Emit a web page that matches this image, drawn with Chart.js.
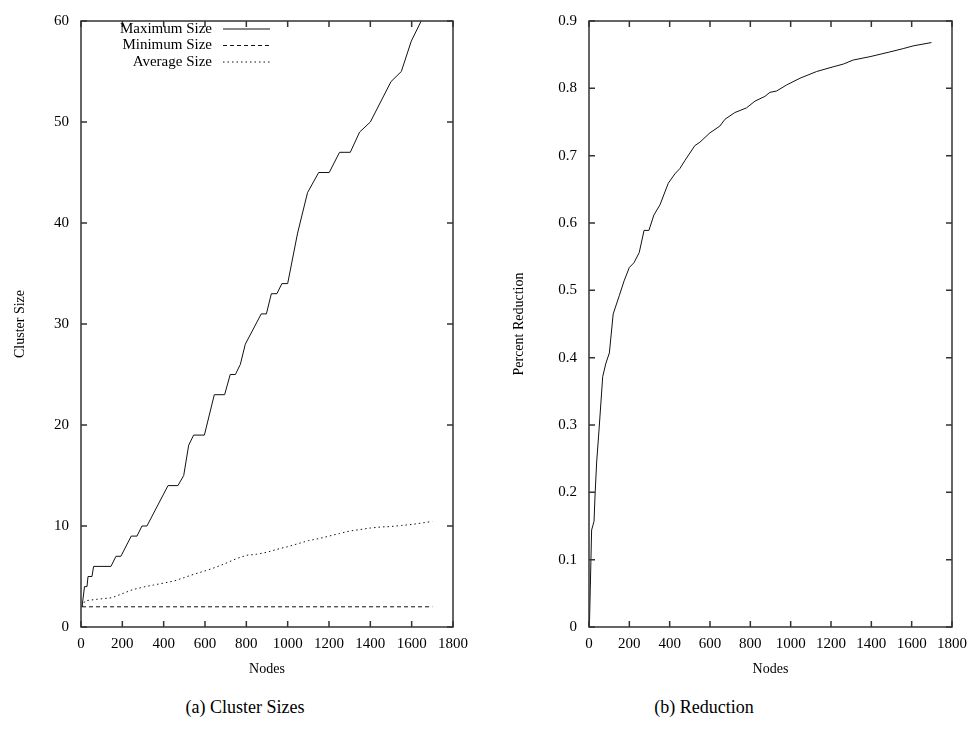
<!DOCTYPE html>
<html>
<head>
<meta charset="utf-8">
<script src="https://cdn.jsdelivr.net/npm/chart.js@4.4.1/dist/chart.umd.min.js"></script>
<style>
body {
	margin : 0;
	background : #fff;
	width : 976px;
	height : 750px;
	position : relative;
	overflow : hidden;
}
.box {
	position : absolute;
	top : 0;
	width : 488px;
	height : 690px;
}
#boxA { left : 0; }
#boxB { left : 488px; }
.caption {
	position : absolute;
	top : 697px;
	font-family : "Liberation Serif", serif;
	font-size : 18px;
	line-height : 20px;
	color : #000;
	white-space : nowrap;
	transform : translateX(-50%);
}
</style>
</head>
<body>
<div class="box" id="boxA"><canvas id="clusterSizes"></canvas></div>
<div class="box" id="boxB"><canvas id="reduction"></canvas></div>
<div class="caption" style="left:245px">(a) Cluster Sizes</div>
<div class="caption" style="left:704px">(b) Reduction</div>
<script>
// x ticks (nodes)
var nodeTicks = [ 0, 200, 400, 600, 800, 1000, 1200, 1400, 1600, 1800 ];

// (a) cluster sizes
var maxNodes = [ 5, 17, 29, 34, 53, 61, 145, 169, 193, 243, 271, 295, 319, 421,
		469, 497, 521, 545, 597, 645, 695, 722, 747, 771, 795, 872, 897, 921,
		948, 972, 1000, 1048, 1096, 1150, 1201, 1251, 1303, 1348, 1400, 1500,
		1550, 1598, 1646, 1700 ];
var maxSize = [ 2, 4, 4, 5, 5, 6, 6, 7, 7, 9, 9, 10, 10, 14, 14, 15, 18, 19,
		19, 23, 23, 25, 25, 26, 28, 31, 31, 33, 33, 34, 34, 39, 43, 45, 45, 47,
		47, 49, 50, 54, 55, 58, 60, 62 ];

var minNodes = [ 5, 1700 ];
var minSize = [ 2, 2 ];

var avgNodes = [ 5, 20, 80, 150, 200, 250, 300, 350, 400, 450, 500, 550, 600,
		650, 700, 750, 800, 850, 900, 950, 1000, 1050, 1100, 1150, 1200, 1250,
		1300, 1350, 1400, 1450, 1500, 1550, 1600, 1650, 1700 ];
var avgSize = [ 2, 2.6, 2.75, 2.9, 3.3, 3.7, 3.95, 4.15, 4.35, 4.55, 4.9, 5.25,
		5.55, 5.9, 6.3, 6.75, 7.1, 7.2, 7.4, 7.7, 7.95, 8.25, 8.55, 8.75, 9.0,
		9.25, 9.5, 9.65, 9.8, 9.9, 9.95, 10.05, 10.15, 10.3, 10.45 ];

// (b) reduction
var redNodes = [ 2, 13, 25, 30, 38, 50, 68, 84, 101, 120, 150, 174, 200, 223,
		249, 273, 297, 322, 352, 393, 426, 451, 476, 525, 550, 600, 649, 674,
		723, 781, 823, 872, 897, 930, 980, 1046, 1129, 1211, 1261, 1310, 1393,
		1491, 1558, 1607, 1698 ];
var redValues = [ 0, 0.144, 0.157, 0.196, 0.245, 0.294, 0.372, 0.392, 0.407,
		0.465, 0.492, 0.514, 0.534, 0.541, 0.556, 0.589, 0.589, 0.612, 0.627,
		0.659, 0.673, 0.681, 0.693, 0.715, 0.72, 0.734, 0.744, 0.754, 0.764,
		0.771, 0.781, 0.788, 0.794, 0.796, 0.805, 0.815, 0.825, 0.832, 0.836,
		0.842, 0.847, 0.854, 0.859, 0.863, 0.868 ];

var serif = '"Liberation Serif", "Times New Roman", serif';

var chart = {

	points : function(xs, ys) {
		var out = [];
		for (var i = 0; i < xs.length; i++) {
			out.push({ x : xs[i], y : ys[i] });
		}
		return out;
	},

	// gnuplot-like box with inward ticks on all four sides
	framePlugin : {
		id : 'frame',
		afterDraw : function(c) {
			var a = c.chartArea, ctx = c.ctx, xs = c.scales.x, ys = c.scales.y, len = 6;
			ctx.save();
			ctx.strokeStyle = '#333';
			ctx.lineWidth = 1.5;
			ctx.strokeRect(a.left, a.top, a.right - a.left, a.bottom - a.top);
			ctx.beginPath();
			xs.ticks.forEach(function(t) {
				var px = xs.getPixelForValue(t.value);
				ctx.moveTo(px, a.bottom);
				ctx.lineTo(px, a.bottom - len);
				ctx.moveTo(px, a.top);
				ctx.lineTo(px, a.top + len);
			});
			ys.ticks.forEach(function(t) {
				var py = ys.getPixelForValue(t.value);
				ctx.moveTo(a.left, py);
				ctx.lineTo(a.left + len, py);
				ctx.moveTo(a.right, py);
				ctx.lineTo(a.right - len, py);
			});
			ctx.stroke();
			ctx.restore();
		}
	},

	// key in the top-left corner: text right aligned, sample on the right
	keyPlugin : {
		id : 'key',
		afterDraw : function(c) {
			var o = c.options.plugins.key;
			if (!o || !o.show) return;
			var ctx = c.ctx;
			ctx.save();
			ctx.font = '15px ' + serif;
			ctx.textAlign = 'right';
			ctx.textBaseline = 'middle';
			ctx.fillStyle = '#000';
			c.data.datasets.forEach(function(ds, i) {
				var y = o.top + i * o.row;
				ctx.fillText(ds.label, o.textRight, y);
				ctx.strokeStyle = ds.borderColor;
				ctx.lineWidth = ds.borderWidth;
				ctx.setLineDash(ds.borderDash || []);
				ctx.beginPath();
				ctx.moveTo(o.lineStart, y);
				ctx.lineTo(o.lineEnd, y);
				ctx.stroke();
			});
			ctx.restore();
		}
	},

	line : function(label, data, dash) {
		return {
			label : label,
			data : data,
			borderColor : '#111',
			borderWidth : 1,
			borderDash : dash,
			pointRadius : 0,
			fill : false,
			tension : 0
		};
	},

	scales : function(yMax, yStep, yTitle, yWidth, yTitlePad) {
		return {
			x : {
				type : 'linear',
				min : 0,
				max : 1800,
				afterBuildTicks : function(s) {
					s.ticks = nodeTicks.map(function(v) { return { value : v }; });
				},
				afterFit : function(s) { s.height = 63; },
				grid : { display : false, drawTicks : false },
				border : { display : false },
				ticks : {
					color : '#000',
					padding : 8,
					maxRotation : 0,
					autoSkip : false,
					font : { family : serif, size : 15 },
					callback : function(v) { return String(v); }
				},
				title : {
					display : true,
					text : 'Nodes',
					color : '#000',
					padding : { top : 0, bottom : 12 },
					font : { family : serif, size : 14 }
				}
			},
			y : {
				min : 0,
				max : yMax,
				afterFit : function(s) { s.width = yWidth; },
				grid : { display : false, drawTicks : false },
				border : { display : false },
				ticks : {
					color : '#000',
					padding : 12,
					stepSize : yStep,
					font : { family : serif, size : 15 },
					callback : function(v) {
						return yStep < 1 ? (v === 0 ? '0' : v.toFixed(1)) : String(v);
					}
				},
				title : {
					display : true,
					text : yTitle,
					color : '#000',
					padding : { top : yTitlePad, bottom : 0 },
					font : { family : serif, size : 14 }
				}
			}
		};
	},

	renderChart1 : function() {
		var context2D = document.getElementById('clusterSizes').getContext('2d');
		return new Chart(context2D, {
			type : 'line',
			data : {
				datasets : [
					chart.line('Maximum Size', chart.points(maxNodes, maxSize), []),
					chart.line('Minimum Size', chart.points(minNodes, minSize), [ 4, 3 ]),
					chart.line('Average Size', chart.points(avgNodes, avgSize), [ 1.5, 3 ])
				]
			},
			options : {
				responsive : true,
				maintainAspectRatio : false,
				animation : false,
				layout : { padding : { top : 13, right : 35, bottom : 0, left : 0 } },
				plugins : {
					legend : { display : false },
					tooltip : { enabled : false },
					key : { show : true, top : 29, row : 16.5, textRight : 212, lineStart : 223, lineEnd : 270 }
				},
				scales : chart.scales(60, 10, 'Cluster Size', 81, 12)
			},
			plugins : [ chart.framePlugin, chart.keyPlugin ]
		});
	},

	renderChart2 : function() {
		var context2D = document.getElementById('reduction').getContext('2d');
		return new Chart(context2D, {
			type : 'line',
			data : {
				datasets : [
					chart.line('Reduction', chart.points(redNodes, redValues), [])
				]
			},
			options : {
				responsive : true,
				maintainAspectRatio : false,
				animation : false,
				layout : { padding : { top : 14, right : 24, bottom : 0, left : 0 } },
				plugins : {
					legend : { display : false },
					tooltip : { enabled : false }
				},
				scales : chart.scales(0.9, 0.1, 'Percent Reduction', 101, 23)
			},
			plugins : [ chart.framePlugin, chart.keyPlugin ]
		});
	}
};

chart.renderChart1();
chart.renderChart2();
</script>
</body>
</html>
